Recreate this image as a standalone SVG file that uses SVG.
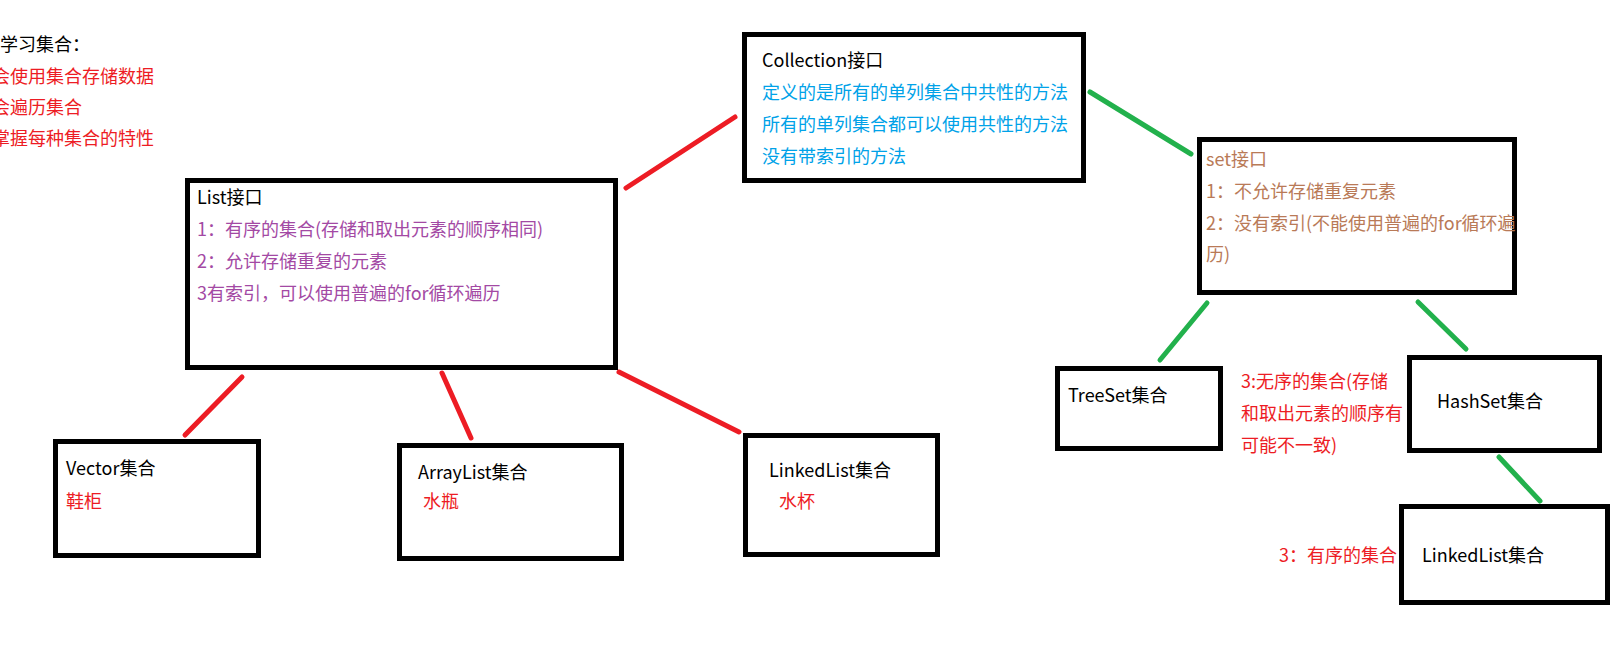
<svg xmlns="http://www.w3.org/2000/svg" width="1616" height="647" viewBox="0 0 1616 647">
<style>
text{font-family:"Noto Sans CJK SC","Microsoft YaHei","Noto Sans",sans-serif;font-size:18px;}
.box{fill:#fff;stroke:#000;stroke-width:5;}
.k{fill:#000;}
.r{fill:#ed1c24;}
.b{fill:#00a2e8;}
.p{fill:#a349a4;}
.o{fill:#b97a57;}
.lr{stroke:#ed1c24;stroke-width:5;stroke-linecap:round;fill:none;}
.lg{stroke:#22b14c;stroke-width:5;stroke-linecap:round;fill:none;}
</style>
<rect width="1616" height="647" fill="#fff"/>
<g id="notes">
<text class="k" x="0" y="51">学习集合：</text>
<text class="r" x="-8" y="83">会使用集合存储数据</text>
<text class="r" x="-8" y="114">会遍历集合</text>
<text class="r" x="-8" y="145">掌握每种集合的特性</text>
</g>
<g id="connectors">
<line class="lr" x1="626" y1="188" x2="735" y2="117"/>
<line class="lg" x1="1090" y1="92" x2="1191" y2="154"/>
<line class="lr" x1="242" y1="377" x2="185" y2="435"/>
<line class="lr" x1="442" y1="373" x2="471" y2="438"/>
<line class="lr" x1="619" y1="372" x2="739" y2="432"/>
<line class="lg" x1="1207" y1="303" x2="1160" y2="360"/>
<line class="lg" x1="1418" y1="302" x2="1466" y2="349"/>
<line class="lg" x1="1499" y1="457" x2="1540" y2="501"/>
</g>
<g id="collection">
<rect class="box" x="744.5" y="34.5" width="339" height="146"/>
<text class="k" x="762" y="67">Collection接口</text>
<text class="b" x="762" y="99">定义的是所有的单列集合中共性的方法</text>
<text class="b" x="762" y="131">所有的单列集合都可以使用共性的方法</text>
<text class="b" x="762" y="163">没有带索引的方法</text>
</g>
<g id="list">
<rect class="box" x="187.5" y="180.5" width="428" height="187"/>
<text class="k" x="197" y="204">List接口</text>
<text class="p" x="197" y="236">1：有序的集合(存储和取出元素的顺序相同)</text>
<text class="p" x="197" y="268">2：允许存储重复的元素</text>
<text class="p" x="197" y="300">3有索引，可以使用普遍的for循环遍历</text>
</g>
<g id="set">
<rect class="box" x="1199.5" y="139.5" width="315" height="153"/>
<text class="o" x="1206" y="166">set接口</text>
<text class="o" x="1206" y="198">1：不允许存储重复元素</text>
<text class="o" x="1206" y="230">2：没有索引(不能使用普遍的for循环遍</text>
<text class="o" x="1206" y="261">历)</text>
</g>
<g id="vector">
<rect class="box" x="55.5" y="441.5" width="203" height="114"/>
<text class="k" x="66" y="475">Vector集合</text>
<text class="r" x="66" y="508">鞋柜</text>
</g>
<g id="arraylist">
<rect class="box" x="399.5" y="445.5" width="222" height="113"/>
<text class="k" x="418" y="479">ArrayList集合</text>
<text class="r" x="423" y="508">水瓶</text>
</g>
<g id="linkedlist">
<rect class="box" x="745.5" y="435.5" width="192" height="119"/>
<text class="k" x="769" y="477">LinkedList集合</text>
<text class="r" x="779" y="508">水杯</text>
</g>
<g id="treeset">
<rect class="box" x="1057.5" y="368.5" width="163" height="80"/>
<text class="k" x="1068" y="402">TreeSet集合</text>
</g>
<g id="hashset-note">
<text class="r" x="1241" y="388">3:无序的集合(存储</text>
<text class="r" x="1241" y="420">和取出元素的顺序有</text>
<text class="r" x="1241" y="452">可能不一致)</text>
</g>
<g id="hashset">
<rect class="box" x="1409.5" y="357.5" width="190" height="93"/>
<text class="k" x="1437" y="408">HashSet集合</text>
</g>
<g id="linkedhashset">
<text class="r" x="1279" y="562">3：有序的集合</text>
<rect class="box" x="1401.5" y="506.5" width="206" height="96"/>
<text class="k" x="1422" y="562">LinkedList集合</text>
</g>
</svg>
